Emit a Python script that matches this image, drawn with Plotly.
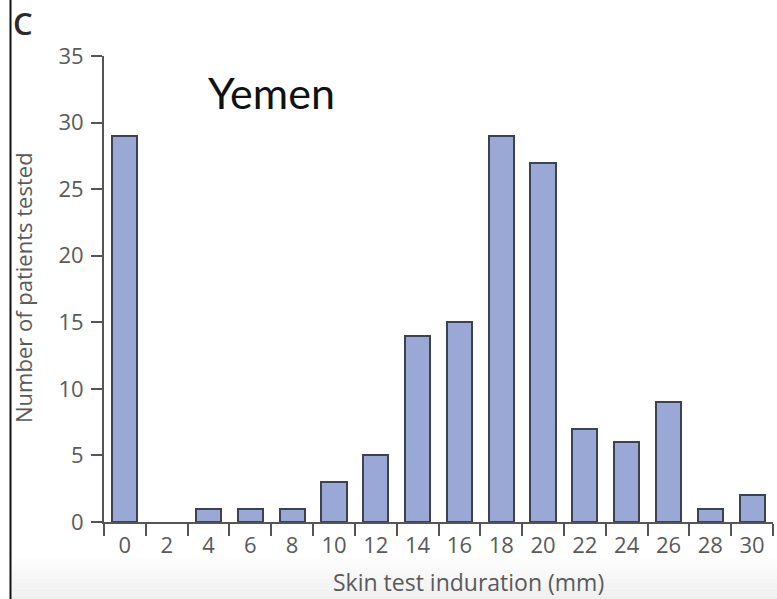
import plotly.graph_objects as go

# Skin test induration (mm) and number of patients per bin
induration_mm = [0, 2, 4, 6, 8, 10, 12, 14, 16, 18, 20, 22, 24, 26, 28, 30]
patients = [29, 0, 1, 1, 1, 3, 5, 14, 15, 29, 27, 7, 6, 9, 1, 2]
y_ticks = [0, 5, 10, 15, 20, 25, 30, 35]
bin_edges = list(range(-1, 32, 2))

AXIS_GREY = "#555555"
TEXT_GREY = "#5a5a5a"
AXIS_FONT = "Open Sans"

fig = go.Figure(
    go.Bar(
        x=induration_mm,
        y=patients,
        width=1.2,
        marker=dict(
            color="#9aa8d6",
            # empty bins get no outline so nothing sits on the axis line
            line=dict(color="#3d4252", width=[2 if v > 0 else 0 for v in patients]),
        ),
        hoverinfo="x+y",
    )
)

# plot area spans pixels x 104..773, y 56..522
L, R, T, B = 104, 4, 56, 77
W, H = 777, 599
pw, ph = W - L - R, H - T - B


def px_x(p):
    return (p - L) / pw


def px_y(p):
    return (H - B - p) / ph


shapes = []
# soft grey band along the bottom edge
band_top, band_bot = 558, 599
steps = 12
for i in range(steps):
    y0 = band_top + (band_bot - band_top) * i / steps
    y1 = band_top + (band_bot - band_top) * (i + 1) / steps
    g = int(255 - 16 * (i + 1) / steps)
    shapes.append(dict(
        type="rect", xref="paper", yref="paper",
        x0=px_x(12), x1=px_x(777), y0=px_y(y1), y1=px_y(y0),
        fillcolor=f"rgb({g},{g},{g})", line=dict(width=0), layer="below",
    ))
# black frame line on the left
shapes.append(dict(
    type="line", xref="paper", yref="paper",
    x0=px_x(10.5), x1=px_x(10.5), y0=px_y(600), y1=px_y(0),
    line=dict(color="#111111", width=2),
))

fig.update_layout(
    width=W, height=H,
    margin=dict(l=L, r=R, t=T, b=B),
    paper_bgcolor="white",
    plot_bgcolor="white",
    showlegend=False,
    bargap=0,
    shapes=shapes,
    font=dict(family=AXIS_FONT, color=TEXT_GREY),
    xaxis=dict(
        range=[-1, 31],
        tickmode="array",
        tickvals=induration_mm,
        ticktext=[str(v) for v in induration_mm],
        ticks="",
        showgrid=False,
        zeroline=False,
        showline=True,
        linecolor=AXIS_GREY,
        linewidth=2,
        tickfont=dict(size=22, color=TEXT_GREY),
        ticklabelstandoff=3,
        minor=dict(tickmode="array", tickvals=bin_edges, ticks="outside",
                   ticklen=12, tickwidth=2, tickcolor=AXIS_GREY, showgrid=False),
        fixedrange=True,
    ),
    yaxis=dict(
        range=[0, 35],
        tickmode="array",
        tickvals=y_ticks,
        ticks="outside",
        ticklen=11,
        tickwidth=2,
        tickcolor=AXIS_GREY,
        showgrid=False,
        zeroline=False,
        showline=True,
        linecolor=AXIS_GREY,
        linewidth=2,
        tickfont=dict(size=22, color=TEXT_GREY),
        ticklabelstandoff=3,
        fixedrange=True,
    ),
    annotations=[
        dict(text="C", xref="paper", yref="paper", x=px_x(11), y=px_y(23),
             xanchor="left", yanchor="middle", showarrow=False,
             font=dict(family="Open Sans", size=31, weight=600, color="#2a2a2a")),
        dict(text="Yemen", xref="paper", yref="paper", x=px_x(271), y=px_y(92),
             xanchor="center", yanchor="middle", showarrow=False,
             font=dict(family="Lato", size=43, color="#111111")),
        dict(text="Skin test induration (mm)", xref="paper", yref="paper",
             x=px_x(469), y=px_y(582), xanchor="center", yanchor="middle",
             showarrow=False, font=dict(size=23, color=TEXT_GREY)),
        dict(text="Number of patients tested", xref="paper", yref="paper",
             x=px_x(23), y=px_y(288), xanchor="center", yanchor="middle",
             textangle=-90, showarrow=False, font=dict(size=22, color=TEXT_GREY)),
    ],
)

fig.write_html("out.html")
